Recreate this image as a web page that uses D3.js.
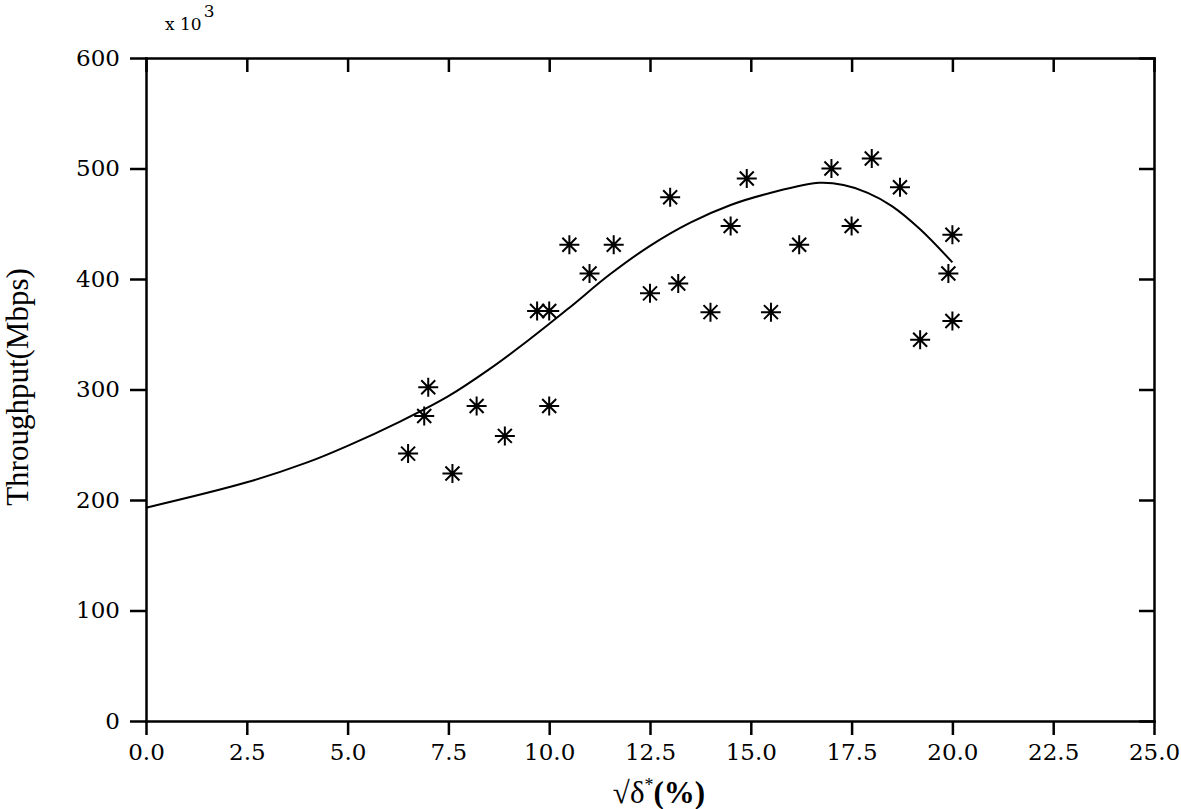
<!DOCTYPE html>
<meta charset="utf-8">
<style>
body{
	margin:0;
	background:#fff;
}
.axis text{
	font-family:"DejaVu Serif", serif;
	font-size:23px;
	fill:#000;
}
.axis path, .axis line{
	stroke:#000;
	stroke-width:2.5px;
}
.title{
	font-family:"Liberation Serif", serif;
	font-size:31px;
	fill:#000;
}
</style>
<body>
<script src="https://d3js.org/d3.v7.min.js"></script>
<script>

    // ---------- data ---------------------------------
    var xTicks = [0, 2.5, 5, 7.5, 10, 12.5, 15, 17.5, 20, 22.5, 25];
    var yTicks = [0, 100, 200, 300, 400, 500, 600];

    // measured samples (x 10^3 Mbps)
    var sampleX = [6.5, 6.9, 7.0, 7.6, 8.2, 8.9, 9.7, 10.0, 10.0, 10.5, 11.0, 11.6, 12.5, 13.0,
                   13.2, 14.0, 14.5, 14.9, 15.5, 16.2, 17.0, 17.5, 18.0, 18.7, 19.2, 19.9, 20.0, 20.0];
    var sampleY = [242, 276, 302, 224, 285, 258, 371, 371, 285, 431, 405, 431, 387, 474,
                   396, 370, 448, 491, 370, 431, 500, 448, 509, 483, 345, 405, 440, 362];

    // fitted curve
    var fitX = [0, 2.5, 4.0, 5.0, 6.3, 7.5, 8.5, 9.5, 10.5, 11.5, 12.5, 13.5, 14.5, 15.5,
                16.7, 17.3, 17.9, 18.5, 19.2, 20.0];
    var fitY = [193, 216, 234, 249, 271, 294, 318, 345, 374, 404, 430, 451, 467, 478,
                487, 485, 478, 466, 445, 415];

    var width = 1181, height = 809;
    var mLeft = 146, mRight = 1154, mTop = 58, mBottom = 721;

    var svg = d3.select("body").append("svg").attr("width", width).attr("height", height);

    var x = d3.scaleLinear().domain([0, 25]).range([mLeft, mRight]);
    var y = d3.scaleLinear().domain([0, 600]).range([mBottom, mTop]);

    // --------- axes -------------
    svg.append("g").attr("class", "axis")
        .attr("transform", "translate(0," + mBottom + ")")
        .call(d3.axisBottom(x).tickValues(xTicks).tickSize(14).tickSizeOuter(0)
            .tickPadding(9).tickFormat(d3.format(".1f")));

    svg.append("g").attr("class", "axis")
        .attr("transform", "translate(0," + mTop + ")")
        .call(d3.axisTop(x).tickValues(xTicks).tickSize(-14).tickSizeOuter(0).tickFormat(""));

    svg.append("g").attr("class", "axis")
        .attr("transform", "translate(" + mLeft + ",0)")
        .call(d3.axisLeft(y).tickValues(yTicks).tickSize(16).tickSizeOuter(0).tickPadding(10));

    svg.append("g").attr("class", "axis")
        .attr("transform", "translate(" + mRight + ",0)")
        .call(d3.axisRight(y).tickValues(yTicks).tickSize(-15).tickSizeOuter(0).tickFormat(""));

    svg.selectAll(".axis .domain").attr("stroke-linecap", "square");

    // ---------- exponent note ---------
    var note = svg.append("text").attr("x", 165).attr("y", 30)
        .style("font-family", "\"DejaVu Serif\", serif").style("font-size", "17px");
    note.append("tspan").text("x 10");
    note.append("tspan").attr("dy", -13).attr("dx", 2).text("3");

    // ---------- titles ---------
    svg.append("text").attr("class", "title")
        .attr("transform", "translate(28," + 387 + ") rotate(-90)")
        .attr("text-anchor", "middle")
        .text("Throughput(Mbps)");

    var xt = svg.append("text").attr("class", "title")
        .attr("x", 659).attr("y", 803)
        .attr("text-anchor", "middle");
    xt.append("tspan").text("\u221A");
    xt.append("tspan").text("\u03B4");
    xt.append("tspan").attr("dy", -12).style("font-size", "18px").text("*");
    xt.append("tspan").attr("dy", 12).style("font-weight", "bold").text("(%)");

    // ---------- fitted curve ---------
    var fit = fitX.map(function (d, i) { return [d, fitY[i]]; });
    svg.append("path").datum(fit)
        .attr("fill", "none").attr("stroke", "#000").attr("stroke-width", 2)
        .attr("d", d3.line().x(d => x(d[0])).y(d => y(d[1])).curve(d3.curveCatmullRom));

    // ---------- star markers ---------
    var pts = sampleX.map(function (d, i) { return [d, sampleY[i]]; });
    var star = "M-10,0L10,0M0,-9.5L0,9.5M-7,-7L7,7M-7,7L7,-7";
    svg.append("g").selectAll("path").data(pts).join("path")
        .attr("transform", d => "translate(" + x(d[0]) + "," + y(d[1]) + ")")
        .attr("d", star)
        .attr("stroke", "#000").attr("stroke-width", 2).attr("fill", "none");

</script>
</body>
</html>
